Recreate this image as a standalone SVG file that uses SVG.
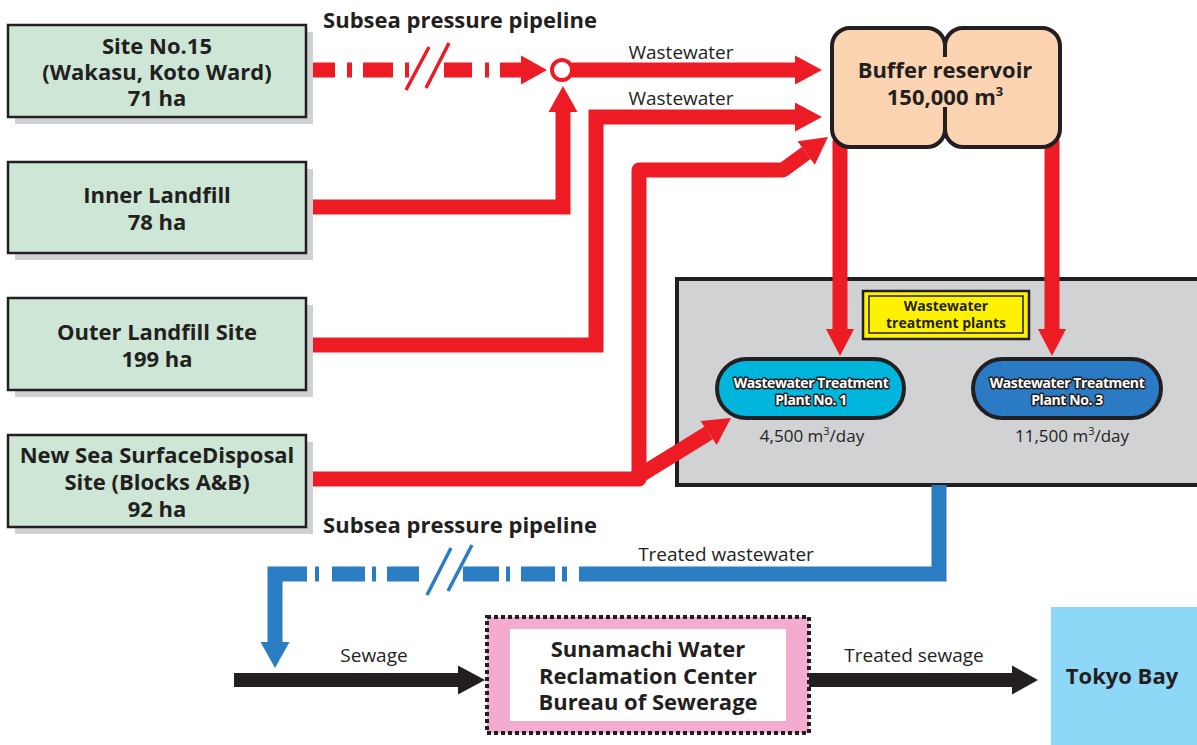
<svg xmlns="http://www.w3.org/2000/svg" width="1197" height="745" viewBox="0 0 1197 745">
<style>
.site{fill:#cde6d5;stroke:#231f20;stroke-width:2.5}
.shadow{fill:#d0d1d3}
.b{font-family:"Open Sans","Noto Sans",sans-serif;font-weight:bold;fill:#231f20;text-anchor:middle}
.r{font-family:"Open Sans","Noto Sans",sans-serif;fill:#231f20;text-anchor:middle}
.red{fill:none;stroke:#ed1c24;stroke-width:15}
.redh{fill:#ed1c24}
.blue{fill:none;stroke:#2a7cc3;stroke-width:15}
.blueh{fill:#2a7cc3}
.blk{fill:none;stroke:#231f20;stroke-width:14}
.blkh{fill:#231f20}
.plant{stroke:#231f20;stroke-width:4}
.pt{font-family:"Open Sans","Noto Sans",sans-serif;font-weight:bold;font-size:14px;fill:#fff;stroke:#231f20;stroke-width:3;paint-order:stroke;stroke-linejoin:round;text-anchor:middle;letter-spacing:-0.4px}
</style>
<rect width="1197" height="745" fill="#fff"/>

<g id="wwtp-area">
<rect x="677" y="279" width="540" height="206" fill="#d1d2d4" stroke="#231f20" stroke-width="4"/>
</g>

<g id="connectors">
<g stroke="#ed1c24" stroke-width="15" fill="none">
<path d="M306,70H335M347,70H352M363,70H393M405,70H409M444,70H472M485,70H489M500,70H521"/>
</g>
<path d="M406,90L429,47M426,88L449,43" stroke="#ed1c24" stroke-width="3.5" fill="none"/>
<polygon class="redh" points="521,55.5 547,70 521,84.5"/>
<circle cx="562" cy="70" r="10" fill="#fff" stroke="#ed1c24" stroke-width="4"/>
<path class="red" d="M572,70H795"/>
<polygon class="redh" points="795,55.5 822,70 795,84.5"/>
<path class="red" d="M306,207H563V112"/>
<polygon class="redh" points="548.5,112 563,86 577.5,112"/>
<path class="red" d="M306,345H596V117H795"/>
<polygon class="redh" points="795,102.5 822,117 795,131.5"/>
<path class="red" stroke-linejoin="round" d="M306,479H639V170H783L806.2,153"/>
<polygon class="redh" points="814.8,164.7 828,137 797.6,141.3"/>
<path class="red" d="M634,479L708.6,433"/>
<polygon class="redh" points="716.7,445 731,418 700.5,421"/>
<path class="red" d="M840,140V330M1052,140V330"/>
<polygon class="redh" points="826,329 854,329 840,356"/>
<polygon class="redh" points="1038,329 1066,329 1052,356"/>
<path class="blue" d="M939,485V574H579"/>
<path class="blue" d="M562,574H567M521,574H555M506,574H510M463,574H499M387,574H419M372,574H376M332,574H365M315,574H319"/>
<path class="blue" d="M307,574H275V642"/>
<polygon class="blueh" points="260.5,642 289.5,642 275,668"/>
<path d="M427,595L451,548M448,591L472,545" stroke="#2a7cc3" stroke-width="3.5" fill="none"/>
<path class="blk" d="M234,680H458M809,680H1012"/>
<polygon class="blkh" points="458,665.5 485,680 458,694.5"/>
<polygon class="blkh" points="1012,665.5 1038,680 1012,694.5"/>
</g>

<g id="labels">
<text class="b" x="460" y="28" font-size="22">Subsea pressure pipeline</text>
<text class="b" x="460" y="533" font-size="22">Subsea pressure pipeline</text>
<text class="r" x="681" y="59" font-size="19">Wastewater</text>
<text class="r" x="681" y="105" font-size="19">Wastewater</text>
<text class="r" x="726" y="561" font-size="19">Treated wastewater</text>
<text class="r" x="374" y="662" font-size="19">Sewage</text>
<text class="r" x="914" y="662" font-size="19">Treated sewage</text>
</g>

<g id="site15">
<rect class="shadow" x="15" y="32" width="298" height="92"/>
<rect class="site" x="8" y="25" width="298" height="92"/>
<text class="b" x="157" y="54" font-size="22">Site No.15</text>
<text class="b" x="157" y="80" font-size="22">(Wakasu, Koto Ward)</text>
<text class="b" x="157" y="106" font-size="22">71 ha</text>
</g>
<g id="inner-landfill">
<rect class="shadow" x="15" y="169" width="298" height="91"/>
<rect class="site" x="8" y="162" width="298" height="91"/>
<text class="b" x="157" y="203" font-size="22">Inner Landfill</text>
<text class="b" x="157" y="230" font-size="22">78 ha</text>
</g>
<g id="outer-landfill">
<rect class="shadow" x="15" y="305" width="298" height="92"/>
<rect class="site" x="8" y="298" width="298" height="92"/>
<text class="b" x="157" y="340" font-size="22">Outer Landfill Site</text>
<text class="b" x="157" y="367" font-size="22">199 ha</text>
</g>
<g id="new-sea-surface">
<rect class="shadow" x="15" y="442" width="298" height="92"/>
<rect class="site" x="8" y="435" width="298" height="92"/>
<text class="b" x="157" y="463" font-size="22">New Sea SurfaceDisposal</text>
<text class="b" x="157" y="490" font-size="22">Site (Blocks A&amp;B)</text>
<text class="b" x="157" y="517" font-size="22">92 ha</text>
</g>

<g id="buffer-reservoir">
<rect x="832" y="28" width="113" height="119" rx="18" fill="#fcd4b1" stroke="#231f20" stroke-width="4"/>
<rect x="945" y="28" width="115" height="119" rx="18" fill="#fcd4b1" stroke="#231f20" stroke-width="4"/>
<rect x="930" y="57" width="30" height="50" fill="#fcd4b1"/>
<text class="b" x="945" y="78" font-size="22">Buffer reservoir</text>
<text class="b" x="945" y="105" font-size="22">150,000 m<tspan font-size="13" dy="-9">3</tspan></text>
</g>

<g id="wwtp-label">
<rect x="863" y="291" width="166" height="48" fill="#fff200" stroke="#231f20" stroke-width="2.5"/>
<rect x="869" y="296" width="154" height="37" fill="none" stroke="#231f20" stroke-width="1.5"/>
<text class="b" x="946" y="311" font-size="14">Wastewater</text>
<text class="b" x="946" y="328" font-size="14">treatment plants</text>
</g>

<g id="plant1">
<rect class="plant" x="717" y="359" width="187" height="59" rx="29.5" fill="#00b6dd"/>
<text class="pt" x="811" y="388">Wastewater Treatment</text>
<text class="pt" x="811" y="405">Plant No. 1</text>
<text class="r" x="812" y="442" font-size="17" fill="#333">4,500 m<tspan font-size="11" dy="-7">3</tspan><tspan dy="7">/day</tspan></text>
</g>
<g id="plant3">
<rect class="plant" x="973" y="359" width="188" height="59" rx="29.5" fill="#2b7bc4"/>
<text class="pt" x="1067" y="388">Wastewater Treatment</text>
<text class="pt" x="1067" y="405">Plant No. 3</text>
<text class="r" x="1072" y="442" font-size="17" fill="#333">11,500 m<tspan font-size="11" dy="-7">3</tspan><tspan dy="7">/day</tspan></text>
</g>

<g id="sunamachi">
<rect x="487" y="617" width="322" height="116" fill="#f3abcf" stroke="#231f20" stroke-width="4" stroke-dasharray="4 3"/>
<rect x="510" y="629" width="276" height="92" fill="#fff"/>
<text class="b" x="648" y="657" font-size="22">Sunamachi Water</text>
<text class="b" x="648" y="684" font-size="22">Reclamation Center</text>
<text class="b" x="648" y="710" font-size="22">Bureau of Sewerage</text>
</g>

<g id="tokyo-bay">
<rect x="1051" y="607" width="146" height="138" fill="#8dd8f6"/>
<text class="b" x="1122" y="684" font-size="22">Tokyo Bay</text>
</g>
</svg>
